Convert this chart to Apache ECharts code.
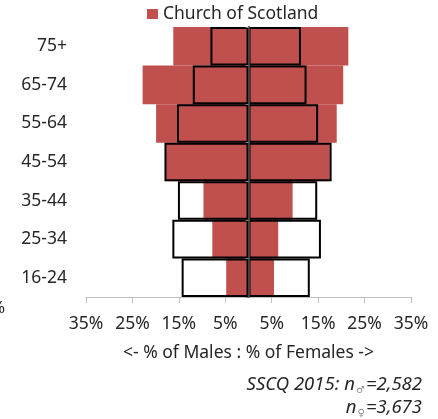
<!DOCTYPE html>
<html>
<head>
<meta charset="utf-8">
<script src="https://cdn.jsdelivr.net/npm/echarts@6/dist/echarts.min.js"></script>
<style>
  html, body { margin: 0; padding: 0; background: #fff; }
  #chart { width: 438px; height: 419px; }
</style>
</head>
<body>
<div id="chart"></div>
<script>
// age bands, bottom to top
const categories = ['16-24', '25-34', '35-44', '45-54', '55-64', '65-74', '75+'];
// Church of Scotland, % of males / % of females
const cosMale = [4.8, 7.8, 9.7, 17.9, 19.9, 22.8, 16.2];
const cosFemale = [5.5, 6.4, 9.5, 17.5, 19.0, 20.4, 21.5];
// all respondents (outline bars)
const allMale = [14.4, 16.4, 15.2, 18.1, 15.4, 12.0, 8.2];
const allFemale = [13.2, 15.6, 14.8, 17.9, 15.0, 12.5, 11.3];

const font = 'Noto Sans';
const fs = 17.5;
const red = '#c0504d';
const ink = '#262626';

const chart = echarts.init(document.getElementById('chart'));

const barBase = {
  type: 'bar',
  barGap: '-100%',
  barCategoryGap: 0,
  silent: true
};

// rich styles for the sample-size note
const noteRich = {
  a: { fontFamily: font, fontSize: 18.5, fontStyle: 'italic', fill: ink },
  s: { fontFamily: 'DejaVu Sans', fontSize: 10, fill: '#8c8c8c', padding: [11, 1, 0, 1] }
};

const option = {
  animation: false,
  textStyle: { fontFamily: font },
  legend: {
    data: ['Church of Scotland'],
    left: 147,
    top: 5,
    padding: 0,
    icon: 'rect',
    itemWidth: 11,
    itemHeight: 10,
    itemGap: 6,
    textStyle: { fontFamily: font, fontSize: fs, color: ink, padding: [0, 0, 0, 0] }
  },
  grid: { left: 86, right: 27, top: 27, bottom: 122, containLabel: false, outerBoundsMode: 'none' },
  xAxis: {
    type: 'value',
    min: -35,
    max: 35,
    interval: 10,
    splitLine: { show: false },
    axisLine: { show: true, lineStyle: { color: '#bfbfbf', width: 1 } },
    axisTick: { show: true, length: 6, lineStyle: { color: '#bfbfbf' } },
    axisLabel: {
      margin: 18,
      fontFamily: font,
      fontSize: fs,
      color: ink,
      showMinLabel: true,
      showMaxLabel: true,
      hideOverlap: false,
      formatter: v => Math.abs(v) + '%'
    },
    name: '<- % of Males : % of Females ->',
    nameLocation: 'middle',
    nameGap: 47,
    nameTextStyle: { fontFamily: font, fontSize: fs, color: ink }
  },
  yAxis: {
    type: 'category',
    data: categories,
    z: 10,
    axisLine: { show: true, onZero: true, lineStyle: { color: '#404040', width: 2 } },
    axisTick: { show: true, length: 3, lineStyle: { color: '#808080' } },
    axisLabel: {
      margin: 19,
      fontFamily: font,
      fontSize: fs,
      color: ink
    }
  },
  series: [
    Object.assign({}, barBase, {
      name: 'Church of Scotland',
      data: cosMale.map(v => -v),
      itemStyle: { color: red }
    }),
    Object.assign({}, barBase, {
      name: 'Church of Scotland',
      data: cosFemale,
      itemStyle: { color: red }
    }),
    Object.assign({}, barBase, {
      name: 'All',
      data: allMale.map(v => -v),
      itemStyle: { color: 'transparent', borderColor: '#000', borderWidth: 2 }
    }),
    Object.assign({}, barBase, {
      name: 'All',
      data: allFemale,
      itemStyle: { color: 'transparent', borderColor: '#000', borderWidth: 2 }
    })
  ],
  graphic: [
    {
      type: 'text',
      left: -9,
      top: 300,
      style: { text: '%', font: '17px "Noto Sans"', fill: ink }
    },
    {
      type: 'text',
      right: 16,
      top: 375,
      style: { text: '{a|SSCQ 2015: n}{s|♂}{a|=2,582}', rich: noteRich }
    },
    {
      type: 'text',
      right: 16,
      top: 398,
      style: { text: '{a|n}{s|♀}{a|=3,673}', rich: noteRich }
    }
  ]
};

chart.setOption(option);
</script>
</body>
</html>
